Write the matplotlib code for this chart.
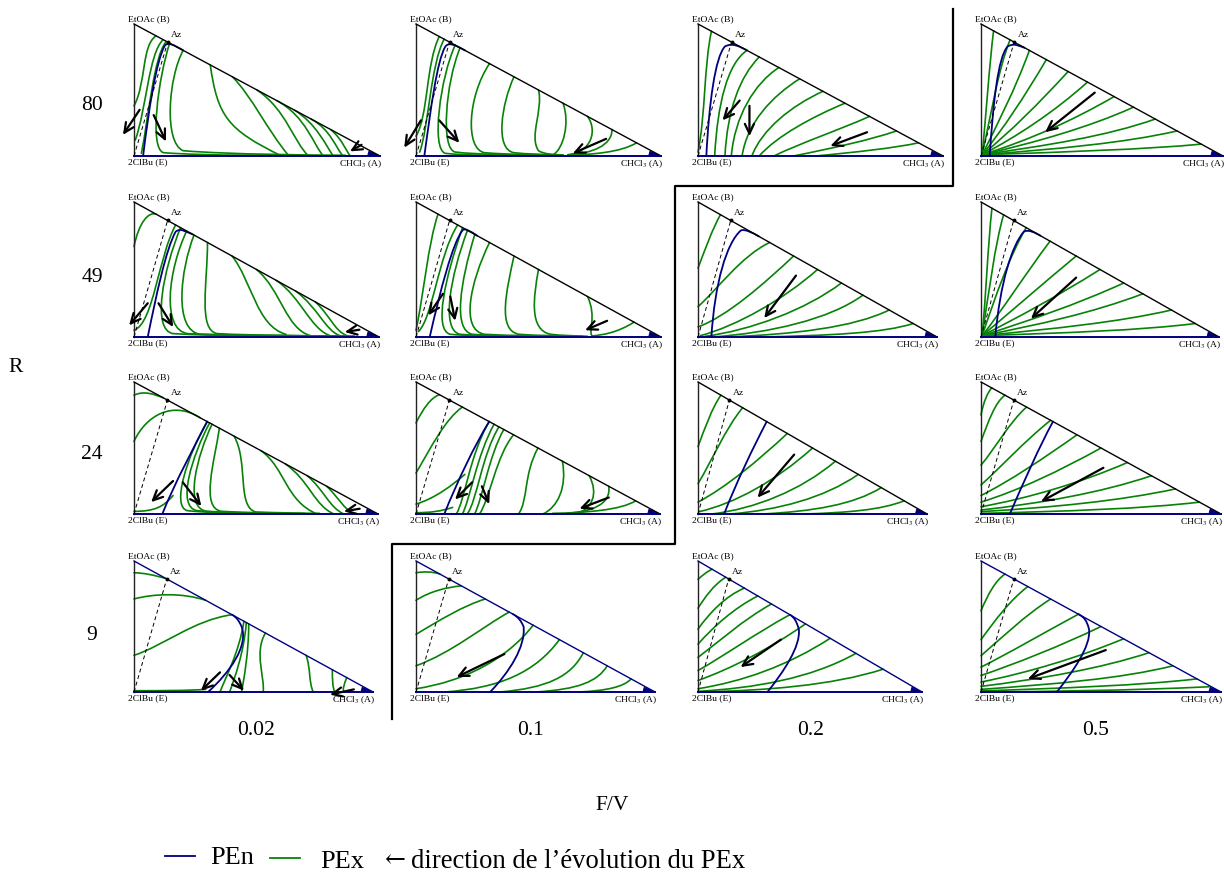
import matplotlib
matplotlib.use("Agg")
import matplotlib.pyplot as plt
from matplotlib.path import Path
from matplotlib.patches import PathPatch, Polygon
from matplotlib.lines import Line2D

plt.rcParams["font.family"] = ["Liberation Serif", "DejaVu Serif"]
plt.rcParams["mathtext.fontset"] = "stix"

# row / column values
R_VALUES = ["80", "49", "24", "9"]
FV_VALUES = ["0.02", "0.1", "0.2", "0.5"]

# azeotrope position (x_A, x_B) in every diagram
AZ = (0.137, 0.863)

# curves are cubic bezier control points in (x_A, x_B) triangle coordinates
# ---------------- R = 80 ----------------
PEN_80_002 = [(0.037, 0), (0.06, 0.35), (0.09, 0.72), (0.125, 0.835), (0.135, 0.865), (0.16, 0.845), (0.2, 0.8)]
PEX_80_002 = [
    [(0.09, 0.91), (0.03, 0.84), (0.05, 0.55), (0.0, 0.38)],
    [(0.118, 0.88), (0.06, 0.78), (0.05, 0.35), (0.005, 0.12)],
    [(0.13, 0.865), (0.08, 0.75), (0.06, 0.3), (0.03, 0.02)],
    [(0.145, 0.855), (0.1, 0.6), (0.06, 0.06), (0.12, 0.025), (0.3, 0.0), (0.6, 0.005), (0.86, 0.005)],
    [(0.2, 0.8), (0.14, 0.6), (0.12, 0.1), (0.2, 0.04), (0.4, 0.01), (0.7, 0.01), (0.9, 0.0)],
    [(0.31, 0.69), (0.34, 0.3), (0.38, 0.2), (0.6, 0.0)],
    [(0.4, 0.6), (0.48, 0.45), (0.54, 0.2), (0.63, 0.0)],
    [(0.5, 0.5), (0.62, 0.35), (0.65, 0.1), (0.71, 0.0)],
    [(0.58, 0.42), (0.7, 0.3), (0.73, 0.08), (0.77, 0.0)],
    [(0.65, 0.35), (0.74, 0.25), (0.78, 0.08), (0.81, 0.0)],
    [(0.72, 0.28), (0.8, 0.2), (0.82, 0.06), (0.85, 0.0)],
    [(0.8, 0.2), (0.85, 0.12), (0.86, 0.04), (0.88, 0.0)],
]
ARR_80_002 = [[(0.023, 0.35), (-0.045, 0.16)], [(0.08, 0.31), (0.13, 0.11)], [(0.925, 0.085), (0.878, 0.035)]]

PEN_80_01 = [(0.034, 0), (0.06, 0.35), (0.085, 0.72), (0.12, 0.83), (0.135, 0.865), (0.16, 0.84), (0.2, 0.8)]
PEX_80_01 = [
    [(0.095, 0.905), (0.04, 0.7), (0.05, 0.3), (0.0, 0.15)],
    [(0.115, 0.885), (0.06, 0.7), (0.05, 0.2), (0.015, 0.03)],
    [(0.16, 0.84), (0.1, 0.6), (0.06, 0.05), (0.12, 0.02), (0.2, 0.005), (0.3, 0.005), (0.4, 0.005)],
    [(0.18, 0.82), (0.12, 0.55), (0.1, 0.05), (0.16, 0.03), (0.25, 0.01), (0.4, 0.01), (0.5, 0.005)],
    [(0.3, 0.7), (0.21, 0.45), (0.2, 0.05), (0.28, 0.025), (0.38, 0.01), (0.48, 0.01), (0.58, 0.008)],
    [(0.4, 0.6), (0.35, 0.4), (0.32, 0.05), (0.4, 0.025), (0.45, 0.015), (0.52, 0.01), (0.6, 0.008)],
    [(0.5, 0.5), (0.52, 0.35), (0.46, 0.15), (0.5, 0.04), (0.52, 0.015), (0.56, 0.01), (0.6, 0.008)],
    [(0.6, 0.4), (0.63, 0.25), (0.6, 0.05), (0.56, 0.01)],
    [(0.7, 0.3), (0.74, 0.2), (0.72, 0.03), (0.62, 0.01)],
    [(0.8, 0.2), (0.8, 0.08), (0.72, 0.02), (0.62, 0.008)],
    [(0.9, 0.1), (0.84, 0.03), (0.72, 0.01), (0.62, 0.006)],
]
ARR_80_01 = [[(0.02, 0.27), (-0.048, 0.063)], [(0.095, 0.27), (0.177, 0.1)], [(0.776, 0.13), (0.64, 0.02)]]

PEN_80_02 = [(0.034, 0), (0.045, 0.4), (0.07, 0.75), (0.11, 0.83), (0.14, 0.86), (0.17, 0.83), (0.2, 0.8)]
PEX_80_02 = [
    [(0.0, 0.03), (0.03, 0.3), (0.025, 0.7), (0.055, 0.945)],
    [(0.068, 0.0), (0.08, 0.4), (0.12, 0.7), (0.2, 0.8)],
    [(0.11, 0.0), (0.12, 0.35), (0.17, 0.6), (0.25, 0.75)],
    [(0.136, 0.0), (0.15, 0.3), (0.23, 0.55), (0.33, 0.67)],
    [(0.18, 0.0), (0.2, 0.25), (0.3, 0.45), (0.415, 0.585)],
    [(0.22, 0.0), (0.26, 0.2), (0.38, 0.38), (0.51, 0.49)],
    [(0.25, 0.0), (0.32, 0.15), (0.47, 0.3), (0.6, 0.4)],
    [(0.31, 0.0), (0.42, 0.1), (0.58, 0.2), (0.7, 0.3)],
    [(0.39, 0.0), (0.55, 0.06), (0.7, 0.12), (0.81, 0.19)],
    [(0.48, 0.0), (0.65, 0.03), (0.8, 0.06), (0.9, 0.1)],
]
ARR_80_02 = [[(0.17, 0.42), (0.1, 0.27)], [(0.21, 0.38), (0.21, 0.15)], [(0.69, 0.18), (0.54, 0.076)]]

PEN_80_05 = [(0.036, 0), (0.05, 0.4), (0.07, 0.75), (0.11, 0.83), (0.14, 0.86), (0.16, 0.83), (0.18, 0.82)]
PEX_80_05 = [
    [(0.005, 0.01), (0.02, 0.3), (0.035, 0.7), (0.052, 0.948)],
    [(0.005, 0.01), (0.04, 0.3), (0.07, 0.65), (0.12, 0.88)],
    [(0.005, 0.01), (0.07, 0.25), (0.14, 0.5), (0.2, 0.8)],
    [(0.005, 0.01), (0.09, 0.2), (0.18, 0.45), (0.27, 0.73)],
    [(0.005, 0.01), (0.12, 0.18), (0.24, 0.4), (0.36, 0.64)],
    [(0.005, 0.01), (0.15, 0.15), (0.3, 0.33), (0.44, 0.56)],
    [(0.005, 0.01), (0.2, 0.12), (0.38, 0.27), (0.55, 0.45)],
    [(0.005, 0.01), (0.22, 0.1), (0.45, 0.22), (0.63, 0.37)],
    [(0.005, 0.01), (0.27, 0.08), (0.52, 0.15), (0.72, 0.28)],
    [(0.005, 0.01), (0.3, 0.05), (0.6, 0.1), (0.81, 0.19)],
    [(0.005, 0.01), (0.35, 0.03), (0.68, 0.05), (0.91, 0.09)],
]
ARR_80_05 = [[(0.47, 0.48), (0.265, 0.18)]]

# ---------------- R = 49 ----------------
PEN_49_002 = [(0.056, 0), (0.09, 0.3), (0.13, 0.65), (0.17, 0.78), (0.19, 0.81), (0.21, 0.78), (0.24, 0.76)]
PEX_49_002 = [
    [(0.0, 0.67), (0.02, 0.85), (0.06, 0.93), (0.09, 0.91)],
    [(0.17, 0.83), (0.1, 0.6), (0.08, 0.1), (0.0, 0.05)],
    [(0.19, 0.81), (0.12, 0.5), (0.07, 0.05), (0.16, 0.025), (0.35, 0.005), (0.6, 0.005), (0.85, 0.005)],
    [(0.215, 0.785), (0.14, 0.5), (0.11, 0.05), (0.22, 0.025), (0.4, 0.01), (0.65, 0.01), (0.88, 0.005)],
    [(0.245, 0.755), (0.19, 0.5), (0.16, 0.05), (0.27, 0.02), (0.45, 0.01), (0.7, 0.01), (0.9, 0.005)],
    [(0.3, 0.7), (0.3, 0.4), (0.26, 0.05), (0.34, 0.025), (0.5, 0.01), (0.7, 0.01), (0.9, 0.005)],
    [(0.4, 0.6), (0.48, 0.42), (0.5, 0.08), (0.62, 0.02)],
    [(0.5, 0.5), (0.6, 0.35), (0.62, 0.06), (0.72, 0.01)],
    [(0.58, 0.42), (0.68, 0.3), (0.72, 0.06), (0.8, 0.01)],
    [(0.66, 0.34), (0.75, 0.22), (0.78, 0.05), (0.84, 0.01)],
    [(0.74, 0.26), (0.8, 0.16), (0.82, 0.04), (0.87, 0.01)],
]
ARR_49_002 = [[(0.056, 0.25), (-0.02, 0.086)], [(0.1, 0.25), (0.16, 0.074)], [(0.92, 0.054), (0.86, 0.037)]]

PEN_49_01 = [(0.056, 0), (0.1, 0.35), (0.15, 0.7), (0.19, 0.79), (0.2, 0.81), (0.22, 0.785), (0.25, 0.75)]
PEX_49_01 = [
    [(0.09, 0.91), (0.05, 0.7), (0.03, 0.3), (0.0, 0.05)],
    [(0.17, 0.83), (0.09, 0.6), (0.07, 0.15), (0.01, 0.04)],
    [(0.19, 0.81), (0.12, 0.45), (0.07, 0.05), (0.14, 0.02), (0.2, 0.01), (0.3, 0.005), (0.4, 0.005)],
    [(0.21, 0.79), (0.14, 0.45), (0.1, 0.05), (0.18, 0.02), (0.25, 0.01), (0.35, 0.005), (0.45, 0.005)],
    [(0.24, 0.76), (0.18, 0.4), (0.15, 0.05), (0.23, 0.02), (0.3, 0.01), (0.4, 0.005), (0.5, 0.005)],
    [(0.3, 0.7), (0.22, 0.4), (0.18, 0.05), (0.28, 0.02), (0.38, 0.01), (0.5, 0.008), (0.6, 0.005)],
    [(0.4, 0.6), (0.37, 0.35), (0.33, 0.05), (0.42, 0.02), (0.5, 0.01), (0.6, 0.008), (0.68, 0.005)],
    [(0.5, 0.5), (0.48, 0.3), (0.46, 0.05), (0.55, 0.02), (0.6, 0.01), (0.66, 0.008), (0.7, 0.005)],
    [(0.7, 0.3), (0.74, 0.15), (0.7, 0.03), (0.72, 0.008)],
    [(0.89, 0.11), (0.82, 0.03), (0.76, 0.015), (0.72, 0.008)],
]
ARR_49_01 = [[(0.11, 0.32), (0.05, 0.16)], [(0.14, 0.3), (0.16, 0.12)], [(0.78, 0.12), (0.69, 0.05)]]

PEN_49_02 = [(0.056, 0), (0.07, 0.4), (0.12, 0.7), (0.18, 0.79), (0.2, 0.8), (0.23, 0.77), (0.255, 0.745)]
PEX_49_02 = [
    [(0.0, 0.51), (0.03, 0.65), (0.06, 0.8), (0.094, 0.906)],
    [(0.0, 0.225), (0.08, 0.35), (0.18, 0.6), (0.3, 0.7)],
    [(0.0, 0.075), (0.12, 0.15), (0.28, 0.4), (0.4, 0.6)],
    [(0.01, 0.01), (0.16, 0.08), (0.36, 0.28), (0.5, 0.5)],
    [(0.03, 0.005), (0.22, 0.05), (0.45, 0.2), (0.6, 0.4)],
    [(0.06, 0.0), (0.3, 0.03), (0.55, 0.13), (0.69, 0.31)],
    [(0.12, 0.0), (0.4, 0.02), (0.65, 0.07), (0.8, 0.2)],
    [(0.25, 0.0), (0.55, 0.01), (0.78, 0.03), (0.9, 0.1)],
]
ARR_49_02 = [[(0.41, 0.455), (0.277, 0.14)]]

PEN_49_05 = [(0.06, 0), (0.08, 0.4), (0.13, 0.68), (0.18, 0.78), (0.2, 0.8), (0.23, 0.77), (0.25, 0.75)]
PEX_49_05 = [
    [(0.005, 0.01), (0.02, 0.3), (0.03, 0.7), (0.046, 0.954)],
    [(0.005, 0.01), (0.03, 0.3), (0.06, 0.7), (0.095, 0.905)],
    [(0.005, 0.01), (0.06, 0.3), (0.12, 0.6), (0.19, 0.81)],
    [(0.005, 0.01), (0.09, 0.2), (0.18, 0.45), (0.29, 0.71)],
    [(0.005, 0.01), (0.12, 0.18), (0.25, 0.38), (0.4, 0.6)],
    [(0.005, 0.01), (0.16, 0.15), (0.32, 0.3), (0.5, 0.5)],
    [(0.005, 0.01), (0.2, 0.12), (0.4, 0.24), (0.6, 0.4)],
    [(0.005, 0.01), (0.24, 0.09), (0.47, 0.18), (0.68, 0.32)],
    [(0.005, 0.01), (0.3, 0.06), (0.58, 0.11), (0.8, 0.2)],
    [(0.005, 0.01), (0.35, 0.03), (0.68, 0.05), (0.9, 0.1)],
]
ARR_49_05 = [[(0.4, 0.44), (0.21, 0.136)]]

# ---------------- R = 24 ----------------
PEN_24_002 = [(0.116, 0), (0.17, 0.25), (0.25, 0.52), (0.3, 0.7)]
PEX_24_002 = [
    [(0.0, 0.9), (0.04, 0.935), (0.08, 0.91), (0.12, 0.88)],
    [(0.0, 0.55), (0.05, 0.75), (0.16, 0.86), (0.27, 0.73)],
    [(0.0, 0.02), (0.08, 0.02), (0.12, 0.05), (0.16, 0.14)],
    [(0.3, 0.7), (0.22, 0.45), (0.15, 0.05), (0.22, 0.025), (0.3, 0.01), (0.4, 0.005), (0.5, 0.005)],
    [(0.31, 0.69), (0.24, 0.45), (0.17, 0.05), (0.26, 0.025), (0.35, 0.01), (0.45, 0.005), (0.55, 0.005)],
    [(0.32, 0.68), (0.26, 0.45), (0.2, 0.04), (0.3, 0.02), (0.4, 0.01), (0.52, 0.005), (0.62, 0.005)],
    [(0.35, 0.65), (0.33, 0.4), (0.27, 0.04), (0.36, 0.02), (0.46, 0.01), (0.6, 0.005), (0.7, 0.005)],
    [(0.41, 0.59), (0.47, 0.4), (0.42, 0.05), (0.5, 0.015), (0.58, 0.01), (0.68, 0.005), (0.76, 0.005)],
    [(0.52, 0.48), (0.62, 0.35), (0.62, 0.1), (0.75, 0.0)],
    [(0.62, 0.38), (0.72, 0.25), (0.74, 0.06), (0.82, 0.0)],
    [(0.71, 0.29), (0.78, 0.18), (0.8, 0.05), (0.86, 0.0)],
    [(0.79, 0.21), (0.84, 0.12), (0.86, 0.04), (0.9, 0.0)],
]
ARR_24_002 = [[(0.16, 0.25), (0.07, 0.09)], [(0.2, 0.24), (0.276, 0.06)], [(0.925, 0.04), (0.86, 0.02)]]

PEN_24_01 = [(0.116, 0), (0.17, 0.25), (0.24, 0.52), (0.3, 0.7)]
PEX_24_01 = [
    [(0.0, 0.69), (0.03, 0.8), (0.06, 0.88), (0.096, 0.904)],
    [(0.0, 0.31), (0.06, 0.5), (0.12, 0.72), (0.19, 0.81)],
    [(0.0, 0.075), (0.08, 0.12), (0.15, 0.22), (0.2, 0.3)],
    [(0.0, 0.01), (0.06, 0.01), (0.1, 0.02), (0.15, 0.05)],
    [(0.3, 0.7), (0.22, 0.45), (0.2, 0.1), (0.165, 0.0)],
    [(0.32, 0.68), (0.25, 0.45), (0.22, 0.1), (0.19, 0.0)],
    [(0.34, 0.66), (0.27, 0.45), (0.25, 0.1), (0.21, 0.0)],
    [(0.36, 0.64), (0.3, 0.45), (0.27, 0.1), (0.24, 0.0)],
    [(0.4, 0.6), (0.33, 0.45), (0.3, 0.1), (0.26, 0.0)],
    [(0.5, 0.5), (0.44, 0.3), (0.46, 0.1), (0.42, 0.0)],
    [(0.6, 0.4), (0.62, 0.2), (0.58, 0.05), (0.52, 0.0)],
    [(0.71, 0.29), (0.75, 0.15), (0.72, 0.04), (0.66, 0.005)],
    [(0.79, 0.21), (0.8, 0.07), (0.72, 0.02), (0.62, 0.005)],
    [(0.9, 0.1), (0.84, 0.03), (0.7, 0.01), (0.56, 0.005)],
]
ARR_24_01 = [[(0.23, 0.24), (0.16, 0.11)], [(0.27, 0.21), (0.3, 0.075)], [(0.79, 0.125), (0.67, 0.04)]]

PEN_24_02 = [(0.114, 0), (0.17, 0.25), (0.24, 0.5), (0.3, 0.7)]
PEX_24_02 = [
    [(0.0, 0.51), (0.03, 0.65), (0.06, 0.8), (0.1, 0.9)],
    [(0.0, 0.23), (0.06, 0.4), (0.12, 0.65), (0.195, 0.805)],
    [(0.0, 0.09), (0.12, 0.2), (0.26, 0.4), (0.39, 0.61)],
    [(0.006, 0.018), (0.16, 0.08), (0.34, 0.25), (0.5, 0.5)],
    [(0.06, 0.0), (0.25, 0.04), (0.45, 0.18), (0.6, 0.4)],
    [(0.14, 0.0), (0.35, 0.03), (0.55, 0.12), (0.7, 0.3)],
    [(0.28, 0.0), (0.5, 0.02), (0.68, 0.07), (0.8, 0.2)],
    [(0.46, 0.0), (0.65, 0.01), (0.8, 0.03), (0.9, 0.1)],
]
ARR_24_02 = [[(0.42, 0.45), (0.26, 0.124)]]

PEN_24_05 = [(0.12, 0), (0.18, 0.25), (0.24, 0.5), (0.3, 0.7)]
PEX_24_05 = [
    [(0.0, 0.75), (0.01, 0.85), (0.03, 0.93), (0.045, 0.955)],
    [(0.0, 0.55), (0.03, 0.7), (0.06, 0.85), (0.1, 0.9)],
    [(0.0, 0.37), (0.06, 0.5), (0.12, 0.7), (0.19, 0.81)],
    [(0.0, 0.22), (0.08, 0.35), (0.18, 0.55), (0.29, 0.71)],
    [(0.0, 0.14), (0.12, 0.25), (0.26, 0.42), (0.4, 0.6)],
    [(0.0, 0.09), (0.16, 0.18), (0.33, 0.33), (0.5, 0.5)],
    [(0.0, 0.055), (0.2, 0.12), (0.42, 0.24), (0.61, 0.39)],
    [(0.0, 0.03), (0.24, 0.08), (0.5, 0.16), (0.71, 0.29)],
    [(0.0, 0.018), (0.3, 0.05), (0.58, 0.1), (0.81, 0.19)],
    [(0.0, 0.005), (0.35, 0.02), (0.68, 0.04), (0.91, 0.09)],
]
ARR_24_05 = [[(0.51, 0.35), (0.25, 0.094)]]

# ---------------- R = 9 ----------------
PEN_9_002 = [(0.31, 0), (0.4, 0.15), (0.48, 0.35), (0.45, 0.5), (0.44, 0.54), (0.43, 0.57), (0.41, 0.59)]
PEX_9_002 = [
    [(0.0, 0.91), (0.04, 0.91), (0.09, 0.89), (0.135, 0.865)],
    [(0.0, 0.71), (0.08, 0.75), (0.2, 0.76), (0.3, 0.7)],
    [(0.0, 0.28), (0.12, 0.35), (0.25, 0.55), (0.41, 0.59)],
    [(0.0, 0.01), (0.12, 0.01), (0.22, 0.01), (0.3, 0.02)],
    [(0.46, 0.54), (0.44, 0.3), (0.38, 0.1), (0.36, 0.0)],
    [(0.47, 0.53), (0.46, 0.3), (0.42, 0.1), (0.4, 0.0)],
    [(0.48, 0.52), (0.48, 0.3), (0.46, 0.1), (0.45, 0.0)],
    [(0.55, 0.45), (0.5, 0.3), (0.55, 0.1), (0.54, 0.0)],
    [(0.72, 0.28), (0.74, 0.18), (0.73, 0.08), (0.75, 0.0)],
    [(0.83, 0.17), (0.83, 0.1), (0.83, 0.04), (0.84, 0.0)],
    [(0.89, 0.11), (0.88, 0.06), (0.87, 0.02), (0.88, 0.0)],
]
ARR_9_002 = [[(0.36, 0.15), (0.28, 0.01)], [(0.4, 0.13), (0.46, 0.01)], [(0.92, 0.02), (0.82, -0.02)]]

PEN_9_01 = [(0.31, 0), (0.39, 0.15), (0.46, 0.35), (0.45, 0.5), (0.44, 0.54), (0.43, 0.57), (0.405, 0.595)]
PEX_9_01 = [
    [(0.0, 0.91), (0.03, 0.92), (0.07, 0.92), (0.1, 0.9)],
    [(0.0, 0.7), (0.06, 0.77), (0.13, 0.8), (0.19, 0.81)],
    [(0.0, 0.44), (0.1, 0.55), (0.2, 0.66), (0.29, 0.71)],
    [(0.0, 0.2), (0.15, 0.3), (0.28, 0.5), (0.39, 0.61)],
    [(0.0, 0.025), (0.2, 0.08), (0.38, 0.25), (0.49, 0.51)],
    [(0.12, 0.0), (0.35, 0.03), (0.5, 0.15), (0.6, 0.4)],
    [(0.35, 0.0), (0.55, 0.03), (0.65, 0.12), (0.7, 0.3)],
    [(0.5, 0.0), (0.68, 0.02), (0.76, 0.08), (0.8, 0.2)],
    [(0.68, 0.0), (0.8, 0.01), (0.87, 0.04), (0.9, 0.1)],
]
ARR_9_01 = [[(0.37, 0.29), (0.17, 0.114)]]

PEN_9_02 = [(0.31, 0), (0.38, 0.15), (0.46, 0.35), (0.45, 0.48), (0.44, 0.54), (0.43, 0.57), (0.41, 0.59)]
PEX_9_02 = [
    [(0.0, 0.86), (0.02, 0.89), (0.04, 0.92), (0.063, 0.937)],
    [(0.0, 0.64), (0.03, 0.72), (0.07, 0.82), (0.124, 0.876)],
    [(0.0, 0.48), (0.05, 0.6), (0.12, 0.73), (0.207, 0.793)],
    [(0.0, 0.365), (0.07, 0.5), (0.16, 0.64), (0.267, 0.733)],
    [(0.0, 0.264), (0.09, 0.38), (0.2, 0.55), (0.328, 0.672)],
    [(0.0, 0.164), (0.12, 0.28), (0.26, 0.45), (0.41, 0.59)],
    [(0.0, 0.088), (0.15, 0.18), (0.32, 0.33), (0.48, 0.52)],
    [(0.0, 0.025), (0.2, 0.08), (0.4, 0.2), (0.59, 0.41)],
    [(0.0, 0.005), (0.25, 0.03), (0.5, 0.1), (0.705, 0.295)],
    [(0.0, 0.0), (0.3, 0.01), (0.6, 0.05), (0.826, 0.174)],
]
ARR_9_02 = [[(0.37, 0.4), (0.19, 0.19)]]

PEN_9_05 = [(0.316, 0), (0.38, 0.15), (0.46, 0.35), (0.45, 0.48), (0.44, 0.55), (0.43, 0.57), (0.406, 0.594)]
PEX_9_05 = [
    [(0.0, 0.62), (0.03, 0.75), (0.06, 0.85), (0.1, 0.9)],
    [(0.0, 0.4), (0.06, 0.55), (0.12, 0.7), (0.195, 0.805)],
    [(0.0, 0.277), (0.09, 0.42), (0.18, 0.58), (0.29, 0.71)],
    [(0.0, 0.19), (0.12, 0.3), (0.26, 0.45), (0.406, 0.594)],
    [(0.0, 0.126), (0.15, 0.22), (0.33, 0.35), (0.5, 0.5)],
    [(0.0, 0.076), (0.2, 0.15), (0.4, 0.26), (0.594, 0.406)],
    [(0.0, 0.043), (0.25, 0.1), (0.5, 0.18), (0.7, 0.3)],
    [(0.0, 0.02), (0.3, 0.06), (0.58, 0.1), (0.8, 0.2)],
    [(0.0, 0.008), (0.35, 0.03), (0.66, 0.05), (0.9, 0.1)],
    [(0.0, 0.0), (0.3, 0.005), (0.6, 0.01), (0.95, 0.04)],
]
ARR_9_05 = [[(0.52, 0.32), (0.195, 0.1)]]

PANELS = [
    [(PEN_80_002, PEX_80_002, ARR_80_002), (PEN_80_01, PEX_80_01, ARR_80_01),
     (PEN_80_02, PEX_80_02, ARR_80_02), (PEN_80_05, PEX_80_05, ARR_80_05)],
    [(PEN_49_002, PEX_49_002, ARR_49_002), (PEN_49_01, PEX_49_01, ARR_49_01),
     (PEN_49_02, PEX_49_02, ARR_49_02), (PEN_49_05, PEX_49_05, ARR_49_05)],
    [(PEN_24_002, PEX_24_002, ARR_24_002), (PEN_24_01, PEX_24_01, ARR_24_01),
     (PEN_24_02, PEX_24_02, ARR_24_02), (PEN_24_05, PEX_24_05, ARR_24_05)],
    [(PEN_9_002, PEX_9_002, ARR_9_002), (PEN_9_01, PEX_9_01, ARR_9_01),
     (PEN_9_02, PEX_9_02, ARR_9_02), (PEN_9_05, PEX_9_05, ARR_9_05)],
]

# layout in pixels
W, H = 1224, 879
E_X = [134, 416, 698, 981]
A_X = [[380, 661, 943, 1223], [379, 661, 937, 1219], [378, 660, 927, 1221], [373, 655, 922, 1221]]
B_Y = [25, 203, 383, 562]
E_Y = [157, 338, 515, 693]

GREEN = "#078207"
BLUE = "#000080"


def bezier(ax, pts, color, lw):
    codes = [Path.MOVETO] + [Path.CURVE4] * (len(pts) - 1)
    ax.add_patch(PathPatch(Path(pts, codes), fc="none", ec=color, lw=lw, clip_on=False,
                           capstyle="round", joinstyle="round"))


fig = plt.figure(figsize=(W / 100, H / 100), dpi=100)

for i in range(4):
    for j in range(4):
        x0, x1 = E_X[j], A_X[i][j]
        ax = fig.add_axes([x0 / W, 1 - E_Y[i] / H, (x1 - x0) / W, (E_Y[i] - B_Y[i]) / H])
        ax.set_xlim(0, 1)
        ax.set_ylim(0, 1)
        ax.axis("off")
        pen, pex, arrows = PANELS[i][j]

        # triangle
        hyp_color = BLUE if i == 3 else "black"
        ax.plot([0, 0], [0, 1], color="#222222", lw=1.0, clip_on=False)
        ax.plot([0, 1], [1, 0], color=hyp_color, lw=1.0, clip_on=False)
        ax.add_patch(Polygon([(0.95, 0), (1, 0), (0.955, 0.035)], closed=True, fc=BLUE, ec=BLUE,
                             lw=0.8, clip_on=False))
        ax.plot([0, AZ[0]], [0, AZ[1]], color="black", lw=0.7, ls=(0, (4, 3)), clip_on=False)
        ax.plot([AZ[0]], [AZ[1]], "o", color="black", ms=1.8, clip_on=False)

        for c in pex:
            bezier(ax, c, GREEN, 1.2)
        ax.plot([0, 1], [0, 0], color=BLUE, lw=1.4, clip_on=False)
        bezier(ax, pen, BLUE, 1.3)

        for start, end in arrows:
            ax.annotate("", xy=end, xytext=start, annotation_clip=False,
                        arrowprops=dict(arrowstyle="->,head_length=0.7,head_width=0.33",
                                        color="black", lw=1.6, shrinkA=0, shrinkB=0))

        fs = 6.8
        ax.annotate("EtOAc (B)", xy=(0, 1), xytext=(-4.3, 1.5), textcoords="offset points",
                    ha="left", va="bottom", fontsize=fs, annotation_clip=False)
        ax.annotate("Az", xy=AZ, xytext=(2.5, 3), textcoords="offset points",
                    ha="left", va="bottom", fontsize=fs, annotation_clip=False)
        ax.annotate("2ClBu (E)", xy=(0, 0), xytext=(-4.3, -1.2), textcoords="offset points",
                    ha="left", va="top", fontsize=fs, annotation_clip=False)
        ax.annotate("CHCl$_3$ (A)", xy=(1, 0), xytext=(1.5, -1.2), textcoords="offset points",
                    ha="right", va="top", fontsize=fs, annotation_clip=False)

# row and column labels
ROW_LABEL_Y = [105, 278, 455, 635]
for lab, y in zip(R_VALUES, ROW_LABEL_Y):
    fig.text(92 / W, 1 - y / H, lab, ha="center", va="center", fontsize=15.5)
fig.text(16 / W, 1 - 368 / H, "R", ha="center", va="center", fontsize=15.5)

COL_LABEL_X = [256, 531, 811, 1096]
for lab, x in zip(FV_VALUES, COL_LABEL_X):
    fig.text(x / W, 1 - 731 / H, lab, ha="center", va="center", fontsize=15.5)
fig.text(612 / W, 1 - 806 / H, "F/V", ha="center", va="center", fontsize=15.5)

# staircase separating line
stair_x = [953, 953, 675, 675, 392, 392]
stair_y = [10, 187, 187, 545, 545, 720]
fig.add_artist(Line2D([x / W for x in stair_x], [1 - y / H for y in stair_y], color="black", lw=1.6))

# legend
fig.add_artist(Line2D([165 / W, 195 / W], [1 - 857 / H] * 2, color=BLUE, lw=1.3))
fig.text(210 / W, 1 - 858 / H, "PEn", ha="left", va="center", fontsize=19)
fig.add_artist(Line2D([270 / W, 300 / W], [1 - 859 / H] * 2, color=GREEN, lw=1.3))
fig.text(320 / W, 1 - 862 / H, "PEx", ha="left", va="center", fontsize=19)
fig.text(384 / W, 1 - 860 / H, "\u2190", ha="left", va="center", fontsize=18,
         family=["DejaVu Serif"])
fig.text(411 / W, 1 - 862 / H, "direction de l\u2019\u00e9volution du PEx", ha="left", va="center",
         fontsize=19.2)

fig.savefig("out.png", dpi=100)
